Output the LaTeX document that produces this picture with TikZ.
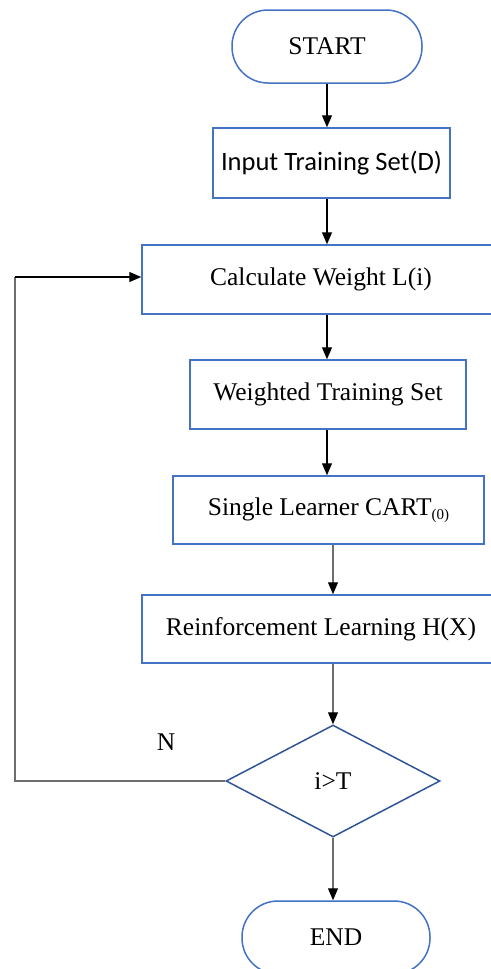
\documentclass[tikz,border=0pt]{standalone}
\usepackage{fontspec}
\setmainfont{Liberation Serif}
\newfontfamily\calibri{Carlito}
\usetikzlibrary{shapes.geometric,arrows.meta}
\definecolor{boxblue}{HTML}{4472C4}
\definecolor{diablue}{HTML}{2F5597}
\definecolor{linegray}{HTML}{6E6E6E}
\tikzset{
  base/.style={draw=boxblue, line width=1.5pt, inner sep=0pt, align=center,
    font=\fontsize{25.5}{30}\selectfont},
  procbox/.style={base, rectangle},
  termbox/.style={base, rectangle, rounded corners=36pt, minimum width=190pt, minimum height=73pt},
  decbox/.style={base, diamond, draw=diablue, minimum width=214pt, minimum height=112pt},
  arr/.style={draw=black, line width=1.2pt, -{Triangle[length=12pt,width=10pt]}},
  garr/.style={draw=linegray, line width=1.2pt, -{Triangle[length=12pt,width=10pt,color=black]}},
  gline/.style={draw=linegray, line width=1.2pt},
  lbl/.style={font=\fontsize{25.5}{30}\selectfont, inner sep=0pt}
}
\begin{document}
\begin{tikzpicture}[x=1pt,y=-1pt]
\useasboundingbox (0,0) rectangle (490,969);
\node[termbox] (start) at (327,46.5) {START};
\node[procbox, minimum width=237pt, minimum height=70pt,
      font=\calibri\fontsize{26.5}{30}\selectfont] (input) at (331.5,163) {Input Training Set(D)};
\node[procbox, minimum width=358pt, minimum height=69pt] (calc) at (321,279.5) {Calculate Weight L(i)};
\node[procbox, minimum width=276pt, minimum height=69pt] (weighted) at (328,394.5) {Weighted Training Set};
\node[procbox, minimum width=311pt, minimum height=68pt] (single) at (328.5,510)
  {Single Learner CART\raisebox{-4pt}{\fontsize{15}{18}\selectfont(0)}};
\node[procbox, minimum width=358pt, minimum height=68pt] (reinf) at (321,629) {Reinforcement Learning H(X)};
\node[decbox] (dec) at (333,781) {i>T};
\node[termbox, minimum width=188pt] (end) at (336,937.5) {END};
\node[lbl] (nlab) at (166,742) {N};
\coordinate (fbl) at (15,277);

\draw[arr] (start.south) -- (start.south |- input.north);
\draw[arr] (input.south -| start.south) -- (calc.north -| start.south);
\draw[arr] (calc.south -| start.south) -- (weighted.north -| start.south);
\draw[arr] (weighted.south -| start.south) -- (single.north -| start.south);
\draw[garr] (single.south -| dec.north) -- (reinf.north -| dec.north);
\draw[garr] (reinf.south -| dec.north) -- (dec.north);
\draw[garr] (dec.south) -- (end.north -| dec.south);
\draw[gline] (dec.west) -| (fbl);
\draw[arr] (fbl) -- (calc.west |- fbl);
\end{tikzpicture}
\end{document}
